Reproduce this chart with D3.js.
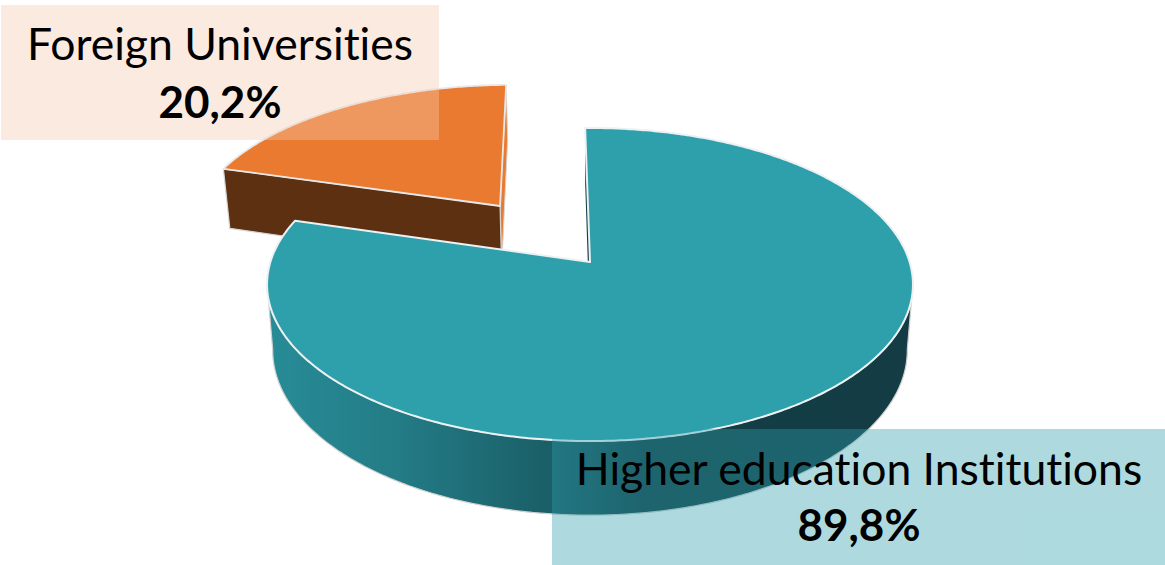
<!DOCTYPE html>
<html><head>
<meta charset="UTF-8">
<title>Pie 3D</title>
<script src="https://d3js.org/d3.v7.min.js"></script>
<style>
  html, body { margin: 0; padding: 0; background: white; overflow: hidden; }
  svg { display: block; }
  text { font-family: Lato, Carlito, sans-serif; fill: black; text-anchor: middle; font-variant-ligatures: none; }
  .name { font-size: 44.5px; }
  .pct { font-size: 44px; font-weight: bold; }
</style>
</head>
<body>
<script type="text/javascript">

// data
var categories = ["Higher education Institutions", "Foreign Universities"];
// slice sizes as drawn in the picture (the orange wedge is 72.7 deg, so the teal one is 79.8 not 89.8)
var sliceValues = [79.8, 20.2];
var percentLabels = ["89,8%", "20,2%"];

var width = 1165, height = 565;

var svg = d3.select("body").append("svg")
    .attr("width", width)
    .attr("height", height)
    .style("background", "white");

var defs = svg.append("defs");
var wallGrad = defs.append("linearGradient")
    .attr("id", "wallGrad")
    .attr("gradientUnits", "userSpaceOnUse")
    .attr("x1", 267).attr("x2", 913).attr("y1", 0).attr("y2", 0);
[[0, "#278c97"], [0.2, "#237c86"], [0.44, "#1a5e67"], [0.58, "#143f47"], [1, "#133c44"]].forEach(function(s) {
  wallGrad.append("stop").attr("offset", s[0]).attr("stop-color", s[1]);
});

// pie starts a hair left of 12 o'clock, clockwise
var rot = -1 * Math.PI / 180;
var pie = d3.pie().sort(null).startAngle(rot).endAngle(rot + 2 * Math.PI);
var arcs = pie(sliceValues);

// perspective projection of the unit disc; two planes, top face and bottom face
var persp = -0.1438;
var topFace = {cx: 590, cy: 262, kx: 319.6, ky: 153.3};
var lowFace = {cx: 590, cy: 326.5, kx: 314, ky: 161.5};

function project(face, u, v) {
  var w = 1 + persp * v;
  return [face.cx + face.kx * u / w, face.cy + face.ky * v / w];
}

var line = d3.line();

function rim(face, a0, a1, off) {
  var n = Math.max(2, Math.ceil(Math.abs(a1 - a0) / 0.01));
  return d3.range(n + 1).map(function(i) {
    var a = a0 + (a1 - a0) * i / n;
    return project(face, off[0] + Math.sin(a), off[1] - Math.cos(a));
  });
}

var noOff = [0, 0];
var explode = [-0.297, -0.3856];
var teal = arcs[0], orange = arcs[1];

// exploded orange wedge
var oStart = orange.startAngle, oEnd = orange.endAngle;

// right cut face
svg.append("path")
    .attr("d", line([
      project(topFace, explode[0], explode[1]),
      project(lowFace, explode[0], explode[1]),
      rim(lowFace, oEnd, oEnd, explode)[0],
      rim(topFace, oEnd, oEnd, explode)[0]
    ]) + "Z")
    .attr("fill", "#ea7a2f")
    .attr("stroke", "#d5d5d5").attr("stroke-width", 1);

// left cut face (the brown one)
svg.append("path")
    .attr("d", line([
      project(topFace, explode[0], explode[1]),
      project(lowFace, explode[0], explode[1]),
      rim(lowFace, oStart, oStart, explode)[0],
      rim(topFace, oStart, oStart, explode)[0]
    ]) + "Z")
    .attr("fill", "#5e3012")
    .attr("stroke", "#d5d5d5").attr("stroke-width", 1.2);

// orange top
svg.append("path")
    .attr("d", line([project(topFace, explode[0], explode[1])].concat(rim(topFace, oStart, oEnd, explode))) + "Z")
    .attr("fill", "#ea7a2f")
    .attr("stroke", "#e8e8e8").attr("stroke-width", 1.8)
    .attr("stroke-linejoin", "round");

// teal wall, front part only, top face covers the rest
var wallA0 = 98 * Math.PI / 180, wallA1 = 262 * Math.PI / 180;
svg.append("path")
    .attr("d", line(rim(topFace, wallA0, wallA1, noOff).concat(rim(lowFace, wallA1, wallA0, noOff))) + "Z")
    .attr("fill", "url(#wallGrad)")
    .attr("stroke", "#d0d0d0").attr("stroke-width", 1.2);

// thin dark cut face seen inside the notch
svg.append("path")
    .attr("d", line([
      project(topFace, 0, 0),
      project(lowFace, 0, 0),
      rim(lowFace, teal.startAngle, teal.startAngle, noOff)[0],
      rim(topFace, teal.startAngle, teal.startAngle, noOff)[0]
    ]) + "Z")
    .attr("fill", "#143f47");

// teal top
svg.append("path")
    .attr("d", line([project(topFace, 0, 0)].concat(rim(topFace, teal.startAngle, teal.endAngle, noOff))) + "Z")
    .attr("fill", "#2da0ac")
    .attr("stroke", "#eef1f1").attr("stroke-width", 2)
    .attr("stroke-linejoin", "round");

// label boxes sit over the pie, semi transparent
var boxes = [
  {x: 552, y: 429, w: 613, h: 136, fill: "rgb(46,160,172)"},
  {x: 1, y: 5, w: 438, h: 135, fill: "rgb(245,202,175)"}
];
var textPos = [[859, 485, 541], [220, 60, 118]];

svg.selectAll("rect.box")
    .data(boxes)
    .enter().append("rect")
    .attr("class", "box")
    .attr("x", function(d) { return d.x; })
    .attr("y", function(d) { return d.y; })
    .attr("width", function(d) { return d.w; })
    .attr("height", function(d) { return d.h; })
    .attr("fill", function(d) { return d.fill; })
    .attr("fill-opacity", 0.39);

categories.forEach(function(name, i) {
  svg.append("text").attr("class", "name")
      .attr("x", textPos[i][0]).attr("y", textPos[i][1]).text(name);
  svg.append("text").attr("class", "pct")
      .attr("x", textPos[i][0]).attr("y", textPos[i][2]).text(percentLabels[i]);
});

</script>
</body>
</html>
